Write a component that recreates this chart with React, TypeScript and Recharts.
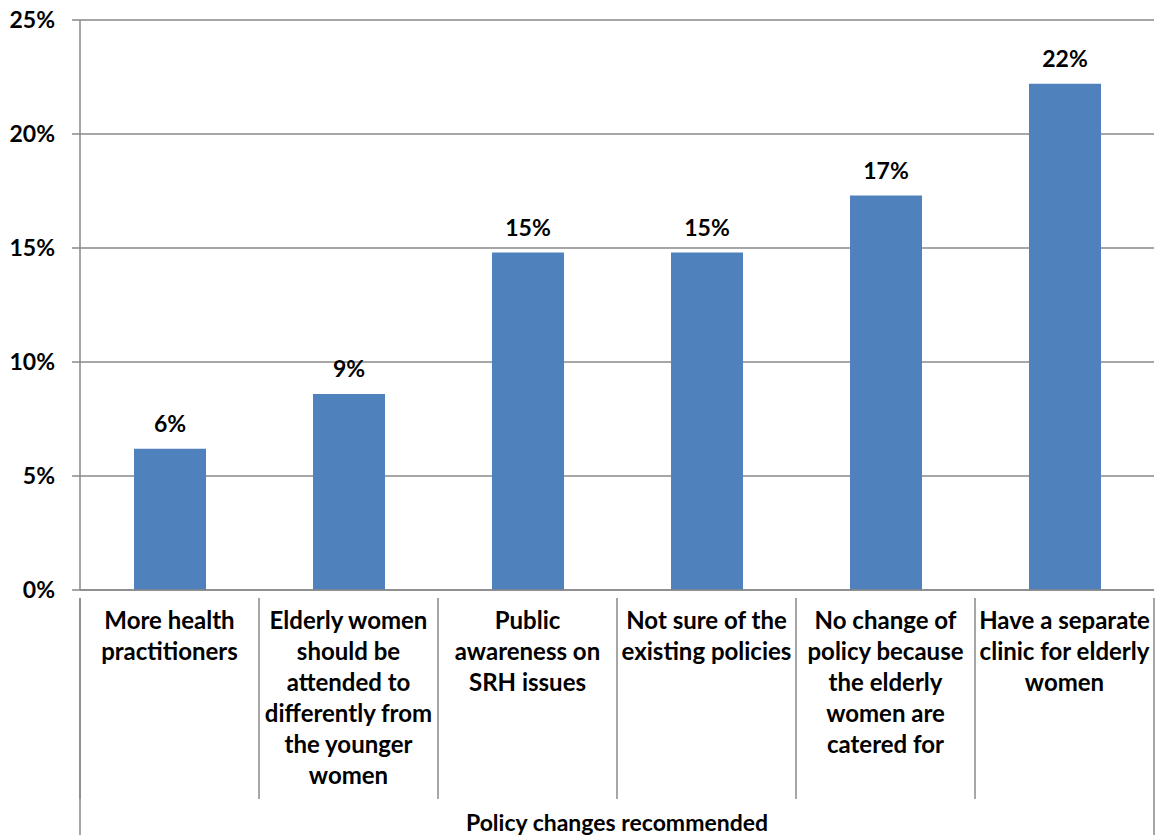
import { BarChart, Bar, XAxis, YAxis, CartesianGrid, LabelList } from 'recharts';

const categoryLines: string[][] = [
  ['More health', 'practitioners'],
  ['Elderly women', 'should be', 'attended to', 'differently from', 'the younger', 'women'],
  ['Public', 'awareness on', 'SRH issues'],
  ['Not sure of the', 'existing policies'],
  ['No change of', 'policy because', 'the elderly', 'women are', 'catered for'],
  ['Have a separate', 'clinic for elderly', 'women'],
];
const shares = [6.2, 8.6, 14.8, 14.8, 17.3, 22.2];
const yTicks = [0, 5, 10, 15, 20, 25];
const axisTitle = 'Policy changes recommended';

const data = categoryLines.map((lines, i) => ({ name: lines.join(' '), value: shares[i] }));

const FONT = 'Lato, "Open Sans", sans-serif';
const GRID = '#898989';

const CategoryTick = (props: any) => {
  const { x, y, payload, index } = props;
  const half = payload.offset ?? 0;
  const lines = categoryLines[payload.index ?? index] || [];
  return (
    <g>
      <line x1={x - half} y1={y} x2={x - half} y2={y + 201} stroke={GRID} strokeWidth={1.5} />
      {index === 0 && <line x1={x - half} y1={y} x2={x - half} y2={y + 245} stroke={GRID} strokeWidth={1.5} />}
      {index === categoryLines.length - 1 && (
        <line x1={x + half} y1={y} x2={x + half} y2={y + 245} stroke={GRID} strokeWidth={1.5} />
      )}
      <text x={x} y={y + 31} textAnchor="middle" fontFamily={FONT} fontWeight="bold" fontSize={24} fill="#000">
        {lines.map((l, i) => (
          <tspan key={i} x={x} dy={i === 0 ? 0 : 31}>
            {l}
          </tspan>
        ))}
      </text>
    </g>
  );
};

const App = () => {
  return (
    <div style={{ position: 'absolute', left: 0, top: 0, background: '#fff' }}>
      <BarChart width={1157} height={835} data={data} margin={{ top: 20, right: 3, left: 0, bottom: 0 }}>
        <CartesianGrid vertical={false} stroke={GRID} strokeWidth={1.5} />
        <XAxis
          dataKey="name"
          height={245}
          tickLine={false}
          axisLine={{ stroke: GRID, strokeWidth: 1.5 }}
          tick={<CategoryTick />}
          interval={0}
          label={{
            value: axisTitle,
            position: 'insideBottom',
            offset: 4,
            fontFamily: FONT,
            fontWeight: 'bold',
            fontSize: 23,
            fill: '#000',
          }}
        />
        <YAxis
          width={80}
          domain={[0, 25]}
          ticks={yTicks}
          tickFormatter={(v: number) => `${v}%`}
          tickSize={8}
          tickMargin={17}
          tickLine={{ stroke: GRID, strokeWidth: 1.5 }}
          axisLine={{ stroke: GRID, strokeWidth: 1.5 }}
          tick={{ fontFamily: FONT, fontWeight: 'bold', fontSize: 23, fill: '#000' }}
        />
        <Bar dataKey="value" fill="#4F81BD" barSize={72} isAnimationActive={false}>
          <LabelList
            dataKey="value"
            position="top"
            offset={17}
            formatter={(v: any) => `${Math.round(Number(v))}%`}
            style={{ fontFamily: FONT, fontWeight: 'bold', fontSize: 23, fill: '#000' }}
          />
        </Bar>
      </BarChart>
    </div>
  );
};

export default App;
